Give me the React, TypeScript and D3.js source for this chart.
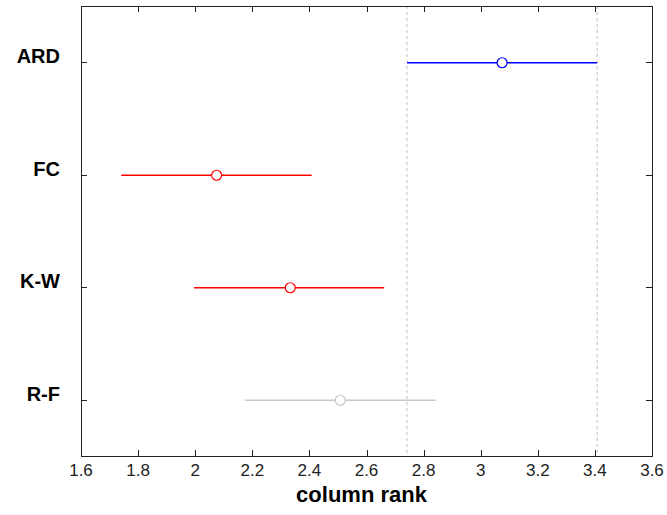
import { useEffect, useRef } from "react";
import * as d3 from "d3";

// multiple comparison of mean column ranks
const groups = ["ARD", "FC", "K-W", "R-F"];
const means = [3.075, 2.075, 2.333, 2.508];
const lower = [2.742, 1.741, 1.996, 2.175];
const upper = [3.408, 2.408, 2.662, 2.842];
const selected = 0;
const xDomain = [1.6, 3.6];

export default function App() {
  const svgRef = useRef<SVGSVGElement>(null);
  const width = 667;
  const height = 515;

  useEffect(() => {
    const margin = { top: 6, right: 15, bottom: 59, left: 81 },
      wt = width - margin.left - margin.right,
      ht = height - margin.top - margin.bottom;

    d3.select(svgRef.current).selectAll("*").remove();

    const svg = d3
      .select(svgRef.current)
      .attr("width", width)
      .attr("height", height)
      .append("g")
      .attr("transform", `translate(${margin.left},${margin.top})`);

    const x = d3.scaleLinear().domain(xDomain).range([0, wt]);
    const y = d3
      .scaleLinear()
      .domain([0.5, groups.length + 0.5])
      .range([0, ht]);

    const font = "'Liberation Sans', Arial, sans-serif";
    const fmt = (d: number) => String(+d.toFixed(1));
    const xTicks = x.ticks(10);
    const yTicks = groups.map((_, i) => i + 1);
    const tickLen = 6;

    // color: selected blue, significantly different red, rest grey
    const colorOf = (i: number) => {
      if (i === selected) return "#0000ff";
      const overlap = lower[i] <= upper[selected] && upper[i] >= lower[selected];
      return overlap ? "#c8c8c8" : "#ff0000";
    };

    // dashed reference lines at selected interval
    svg
      .selectAll("line.ref")
      .data([lower[selected], upper[selected]])
      .join("line")
      .attr("class", "ref")
      .attr("x1", (d) => x(d))
      .attr("x2", (d) => x(d))
      .attr("y1", 0)
      .attr("y2", ht)
      .attr("stroke", "#c0c0c0")
      .attr("stroke-width", 1)
      .attr("stroke-dasharray", "3,3");

    // interval lines
    svg
      .selectAll("line.ci")
      .data(groups)
      .join("line")
      .attr("class", "ci")
      .attr("x1", (_, i) => x(lower[i]))
      .attr("x2", (_, i) => x(upper[i]))
      .attr("y1", (_, i) => y(i + 1) + 0.5)
      .attr("y2", (_, i) => y(i + 1) + 0.5)
      .attr("stroke", (_, i) => colorOf(i))
      .attr("stroke-width", 1.3);

    // mean markers
    svg
      .selectAll("circle")
      .data(groups)
      .join("circle")
      .attr("cx", (_, i) => x(means[i]))
      .attr("cy", (_, i) => y(i + 1) + 0.5)
      .attr("r", 5)
      .attr("fill", "white")
      .attr("stroke", (_, i) => colorOf(i))
      .attr("stroke-width", 1.2);

    // box
    svg
      .append("rect")
      .attr("x", 0.5)
      .attr("y", 0.5)
      .attr("width", wt)
      .attr("height", ht)
      .attr("fill", "none")
      .attr("stroke", "#222")
      .attr("stroke-width", 1);

    // inward ticks on all four sides
    const tickG = svg.append("g").attr("stroke", "#222").attr("stroke-width", 1);
    xTicks.forEach((t) => {
      const px = Math.round(x(t)) + 0.5;
      tickG.append("line").attr("x1", px).attr("x2", px).attr("y1", ht).attr("y2", ht - tickLen);
      tickG.append("line").attr("x1", px).attr("x2", px).attr("y1", 0).attr("y2", tickLen);
    });
    yTicks.forEach((t) => {
      const py = Math.round(y(t)) + 0.5;
      tickG.append("line").attr("x1", 0).attr("x2", tickLen).attr("y1", py).attr("y2", py);
      tickG.append("line").attr("x1", wt).attr("x2", wt - tickLen).attr("y1", py).attr("y2", py);
    });

    // x tick labels
    svg
      .selectAll("text.xt")
      .data(xTicks)
      .join("text")
      .attr("class", "xt")
      .attr("x", (d) => x(d))
      .attr("y", ht + 20)
      .attr("text-anchor", "middle")
      .style("font-family", font)
      .style("font-size", "17px")
      .attr("fill", "#222")
      .text((d) => fmt(d));

    // y labels
    svg
      .selectAll("text.yt")
      .data(groups)
      .join("text")
      .attr("class", "yt")
      .attr("x", -21)
      .attr("y", (_, i) => y(i + 1) + 1)
      .attr("text-anchor", "end")
      .style("font-family", font)
      .style("font-size", "20px")
      .style("font-weight", "bold")
      .attr("fill", "#000")
      .text((d) => d);

    // x-axis label
    svg
      .append("text")
      .attr("x", wt / 2 - 5)
      .attr("y", ht + 46)
      .attr("text-anchor", "middle")
      .style("font-family", font)
      .style("font-size", "22px")
      .style("font-weight", "bold")
      .attr("fill", "#000")
      .text("column rank");
  }, []);

  return (
    <svg
      ref={svgRef}
      style={{ position: "absolute", left: 0, top: 0, background: "white" }}
    ></svg>
  );
}
